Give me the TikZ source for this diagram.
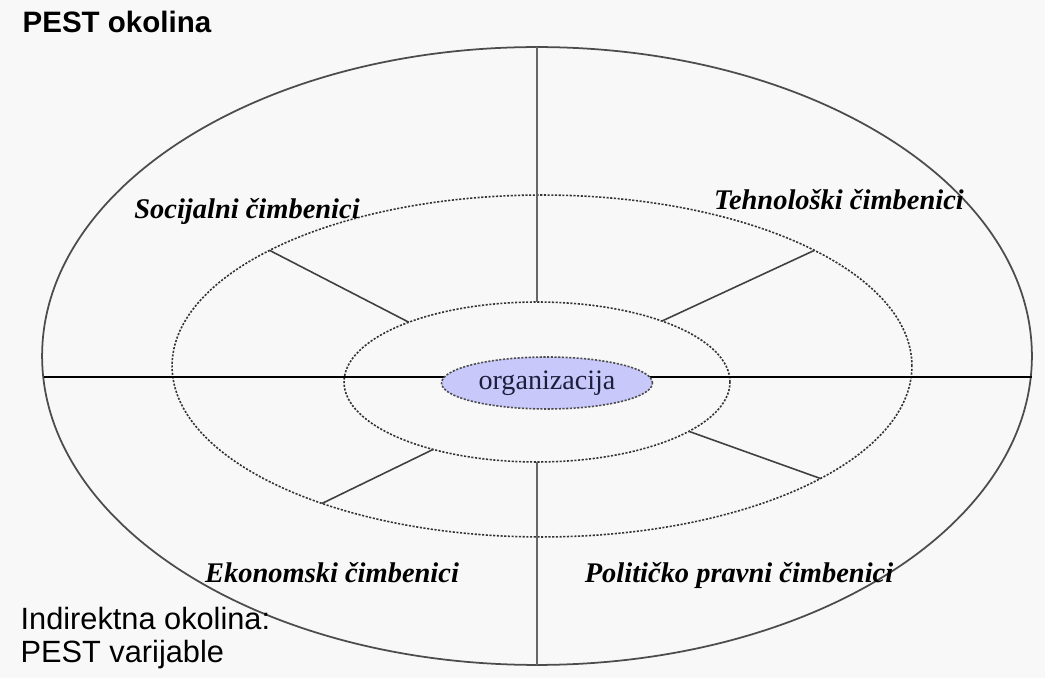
\documentclass[tikz,border=0pt]{standalone}
\usepackage{fontspec}
\setmainfont{Liberation Serif}
\setsansfont{Liberation Sans}
\usetikzlibrary{shapes.geometric}
\definecolor{orgfill}{RGB}{200,200,250}
\definecolor{orgtext}{RGB}{30,30,60}
\definecolor{bgcol}{RGB}{248,248,248}

\begin{document}
\begin{tikzpicture}[x=0.02cm, y=-0.02cm, line width=0.9pt,
  ring/.style={draw, ellipse, inner sep=0, outer sep=0},
  dotring/.style={ring, draw=black!80, dash pattern=on 1.2pt off 0.9pt},
  factor/.style={font=\fontsize{16.2}{18}\selectfont\bfseries\itshape},
  note/.style={font=\sffamily\fontsize{17.5}{18.8}\selectfont, align=left, anchor=west}]

	\fill[bgcol] (0,0) rectangle (1045,678);
	\useasboundingbox (0,0) rectangle (1045,678);

	% rings
	\node (A) at (537,356) [ring, draw=black!70, line width=1pt, minimum width=19.8cm, minimum height=12.36cm] {};
	\node (B) at (542,366) [dotring, minimum width=14.8cm, minimum height=6.84cm] {};
	\node (C) at (537,382) [dotring, minimum width=7.72cm, minimum height=3.2cm] {};
	\coordinate (L) at (44,377);
	\coordinate (R) at (1032,377);

	% axes
	\draw[-, line width=1.3pt] (L) to (R);
	\draw[-, draw=black!60] (A.north) to (C.north);
	\draw[-, draw=black!60] (C.south) to (A.south);

	% spokes
	\draw[-, draw=black!75] (B.157.8) to (C.155.6);
	\draw[-, draw=black!75] (B.23.8) to (C.26);
	\draw[-, draw=black!75] (C.342.2) to (B.338.7);
	\draw[-, draw=black!75] (C.213.2) to (B.212.2);

	\node (D) at (547,383) [ring, fill=orgfill, draw=black!70, dash pattern=on 1.2pt off 0.9pt,
	  minimum width=4.22cm, minimum height=1.04cm, text=orgtext, font=\fontsize{16}{18}\selectfont] {organizacija};

	% labels
	\node (S) at (247,212) [factor] {Socijalni čimbenici};
	\node (T) at (839,200) [factor] {Tehnološki čimbenici};
	\node (E) at (332,573) [factor] {Ekonomski čimbenici};
	\node (P) at (739,575) [factor] {Političko pravni čimbenici};

	\node (H) at (16,22) [anchor=west, font=\sffamily\bfseries\fontsize{16.8}{18}\selectfont] {PEST okolina};
	\node (N) at (14,638) [note] {Indirektna okolina:\\PEST varijable};
\end{tikzpicture}
\end{document}
